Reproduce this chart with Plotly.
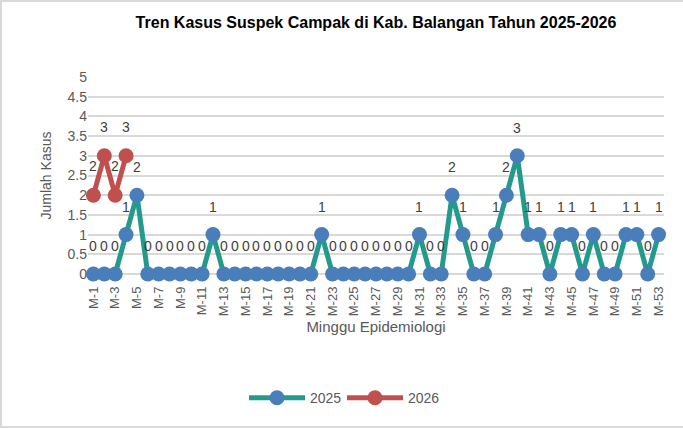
import plotly.graph_objects as go

weeks = [f"M-{i}" for i in range(1, 54)]

cases_2025 = [0, 0, 0, 1, 2, 0, 0, 0, 0, 0,
              0, 1, 0, 0, 0, 0, 0, 0, 0, 0,
              0, 1, 0, 0, 0, 0, 0, 0, 0, 0,
              1, 0, 0, 2, 1, 0, 0, 1, 2, 3,
              1, 1, 0, 1, 1, 0, 1, 0, 0, 1,
              1, 0, 1]
weeks_2026 = weeks[:4]
cases_2026 = [2, 3, 2, 3]

y_ticks = [0, 0.5, 1, 1.5, 2, 2.5, 3, 3.5, 4, 4.5, 5]
y_tick_text = ["0", "0.5", "1", "1.5", "2", "2.5", "3", "3.5", "4", "4.5", "5"]

TEAL = "#239a8c"
BLUE = "#4a7ebb"
RED = "#c0504d"
FONT = "Liberation Sans, Arial, sans-serif"

W, H = 683, 428
ML, MR, MT, MB = 88, 19, 77, 154
PW, PH = W - ML - MR, H - MT - MB

fig = go.Figure()
fig.add_trace(go.Scatter(
    x=weeks, y=cases_2025, name="2025", mode="lines+markers",
    line=dict(color=TEAL, width=5),
    marker=dict(color=BLUE, size=15),
    cliponaxis=False,
))
fig.add_trace(go.Scatter(
    x=weeks_2026, y=cases_2026, name="2026", mode="lines+markers",
    line=dict(color=RED, width=5),
    marker=dict(color=RED, size=15),
    cliponaxis=False,
))

annotations = []
for xv, yv in zip(weeks, cases_2025):
    annotations.append(dict(x=xv, y=yv, xref="x", yref="y", text=str(yv),
                            showarrow=False, yshift=28,
                            font=dict(size=14, color="#404040", family=FONT)))
for xv, yv in zip(weeks_2026, cases_2026):
    annotations.append(dict(x=xv, y=yv, xref="x", yref="y", text=str(yv),
                            showarrow=False, yshift=29,
                            font=dict(size=14, color="#404040", family=FONT)))

# light frame around the chart area (left, top, bottom edges visible)
frame = dict(type="rect", xref="paper", yref="paper",
             x0=-(ML - 1) / PW, x1=(PW + MR + 10) / PW,
             y0=-(MB - 1) / PH, y1=(PH + MT - 1) / PH,
             line=dict(color="#d9d9d9", width=2), fillcolor="rgba(0,0,0,0)", layer="below")

fig.update_layout(
    width=W, height=H,
    margin=dict(l=ML, r=MR, t=MT, b=MB),
    paper_bgcolor="white", plot_bgcolor="white",
    font=dict(family=FONT, color="#595959"),
    title=dict(text="<b>Tren Kasus Suspek Campak di Kab. Balangan Tahun 2025-2026</b>",
               x=0.5, xref="paper", y=1 - 22 / H, yanchor="middle",
               font=dict(size=16, color="#000000", family=FONT)),
    xaxis=dict(type="category", categoryorder="array", categoryarray=weeks,
               range=[-0.5, len(weeks) - 0.5], automargin=False,
               tickmode="array", tickvals=weeks[::2], ticktext=weeks[::2],
               tickangle=-90, tickfont=dict(size=13, color="#595959"),
               ticklabelstandoff=9,
               showgrid=False, showline=False, zeroline=False,
               title=dict(text="Minggu Epidemiologi", font=dict(size=15, color="#595959"),
                          standoff=6)),
    yaxis=dict(range=[0, 5], tickmode="array", tickvals=y_ticks, ticktext=y_tick_text,
               tickfont=dict(size=14, color="#595959"), automargin=False,
               showgrid=True, gridcolor="#d9d9d9", gridwidth=1.5,
               zeroline=True, zerolinecolor="#d9d9d9", zerolinewidth=1.5,
               showline=False,
               title=dict(text="Jumlah Kasus", font=dict(size=14, color="#595959"),
                          standoff=12)),
    legend=dict(orientation="h", x=0.441, xanchor="center", y=-0.63, yanchor="middle",
                font=dict(size=14, color="#595959"), itemwidth=56,
                entrywidth=27, bgcolor="rgba(0,0,0,0)"),
    annotations=annotations,
    shapes=[frame],
    hovermode=False,
)

fig.write_html("out.html", post_script="document.body.style.margin='0';",
               config={"displayModeBar": False})
